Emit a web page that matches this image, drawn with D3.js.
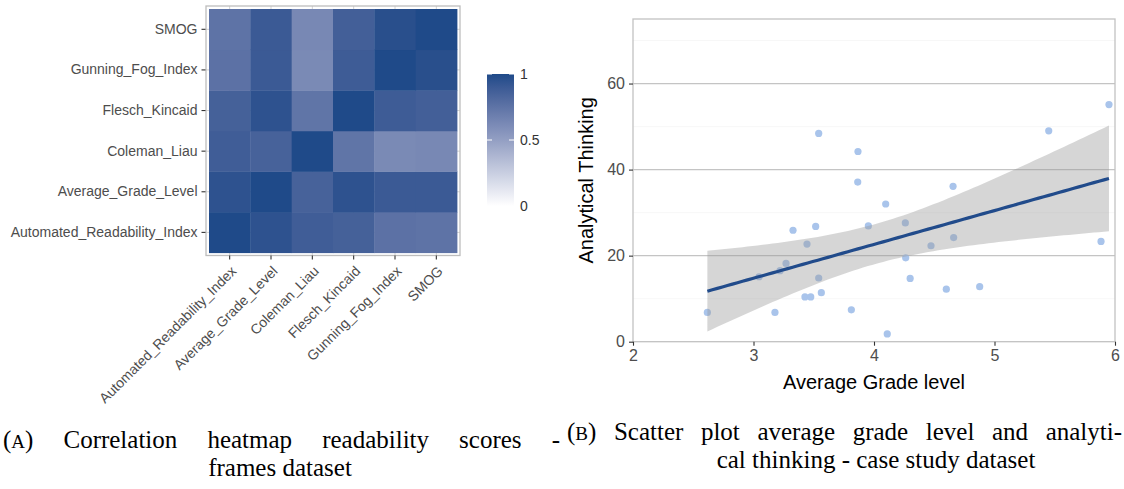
<!DOCTYPE html>
<html>
<head>
<meta charset="utf-8">
<script src="https://cdn.jsdelivr.net/npm/d3@7"></script>
<style>
  html, body { margin: 0; padding: 0; background: #fff; }
  svg { display: block; }
</style>
</head>
<body>
<div id="chart"></div>
<script>
(function() {
    'use strict';

    // heatmap data
    const measures = ["Automated_Readability_Index", "Average_Grade_Level", "Coleman_Liau",
                      "Flesch_Kincaid", "Gunning_Fog_Index", "SMOG"];
    const corrARI  = [1.00, 0.95, 0.88, 0.86, 0.76, 0.75];
    const corrAGL  = [0.95, 1.00, 0.85, 0.95, 0.90, 0.90];
    const corrCL   = [0.88, 0.85, 1.00, 0.74, 0.62, 0.63];
    const corrFK   = [0.86, 0.95, 0.74, 1.00, 0.89, 0.87];
    const corrGFI  = [0.76, 0.90, 0.62, 0.89, 1.00, 0.97];
    const corrSMOG = [0.75, 0.90, 0.63, 0.87, 0.97, 1.00];
    const corrRows = [corrARI, corrAGL, corrCL, corrFK, corrGFI, corrSMOG];
    const legendTicks = [0, 0.5, 1];

    // scatter data
    const gradeLevel = [2.617, 3.328, 3.516, 3.541, 3.444, 3.046, 3.22, 3.27, 3.541, 3.427,
                        3.475, 3.563, 3.178, 3.867, 3.865, 4.097, 3.953, 4.26, 4.656, 4.473,
                        4.661, 4.263, 4.30, 4.60, 4.877, 3.812, 4.11, 5.45, 5.95, 5.884];
    const analytical = [6.8, 25.9, 26.8, 48.4, 22.7, 15.1, 16.5, 18.2, 14.8, 10.4,
                        10.4, 11.4, 6.8, 44.2, 37.1, 32.0, 26.9, 27.6, 36.1, 22.3,
                        24.2, 19.5, 14.7, 12.2, 12.8, 7.4, 1.8, 49.0, 55.1, 23.3];
    const xTicks = [2, 3, 4, 5, 6];
    const yTicks = [0, 20, 40, 60];

    const width = 1124;
    const height = 489;
    const sans = "'Liberation Sans', Arial, sans-serif";

    const svg = d3.select("#chart")
        .append("svg")
        .attr("width", width)
        .attr("height", height)
        .style("font-family", sans);

    // ---------- HEATMAP ----------
    const hx = d3.scaleBand().domain(measures).range([209, 457]);
    const hy = d3.scaleBand().domain(measures).range([252.7, 9]);
    const color = d3.scaleLinear()
        .domain([0, 1])
        .range(["#ffffff", "#1f4a89"])
        .interpolate(d3.interpolateLab);

    // gridlines behind tiles
    svg.append("g")
        .selectAll("line")
        .data(measures)
        .join("line")
        .attr("x1", d => hx(d) + hx.bandwidth() / 2)
        .attr("x2", d => hx(d) + hx.bandwidth() / 2)
        .attr("y1", 6).attr("y2", 255.5)
        .attr("stroke", "#d4d4d4").attr("stroke-width", 1);
    svg.append("g")
        .selectAll("line")
        .data(measures)
        .join("line")
        .attr("y1", d => hy(d) + hy.bandwidth() / 2)
        .attr("y2", d => hy(d) + hy.bandwidth() / 2)
        .attr("x1", 206).attr("x2", 460)
        .attr("stroke", "#d4d4d4").attr("stroke-width", 1);

    const cells = [];
    corrRows.forEach((row, i) => {
        row.forEach((v, j) => cells.push({ row: measures[i], col: measures[j], value: v }));
    });

    svg.append("g")
        .selectAll("rect")
        .data(cells)
        .join("rect")
        .attr("x", d => hx(d.col))
        .attr("y", d => hy(d.row))
        .attr("width", hx.bandwidth() + 0.4)
        .attr("height", hy.bandwidth() + 0.4)
        .attr("fill", d => color(d.value));

    svg.append("rect")
        .attr("x", 206).attr("y", 6)
        .attr("width", 254).attr("height", 249.5)
        .attr("fill", "none")
        .attr("stroke", "#bdbdbd")
        .attr("stroke-width", 1.3);

    // y axis
    svg.append("g")
        .attr("transform", "translate(205.5,0)")
        .call(d3.axisLeft(hy).tickSize(4).tickPadding(4))
        .call(g => g.select(".domain").remove())
        .call(g => g.selectAll("line").attr("stroke", "#333").attr("stroke-width", 1.1))
        .selectAll("text")
        .attr("fill", "#4d4d4d")
        .attr("font-size", "14px")
        .attr("font-family", sans);

    // x axis
    svg.append("g")
        .attr("transform", "translate(0,255.5)")
        .call(d3.axisBottom(hx).tickSize(4))
        .call(g => g.select(".domain").remove())
        .call(g => g.selectAll("line").attr("stroke", "#333").attr("stroke-width", 1.1))
        .selectAll("text")
        .attr("x", 0).attr("y", 0)
        .attr("dy", "0.35em")
        .attr("transform", "translate(4,13) rotate(-45)")
        .style("text-anchor", "end")
        .attr("fill", "#4d4d4d")
        .attr("font-size", "14px")
        .attr("font-family", sans);

    // legend
    const ly = d3.scaleLinear().domain([0, 1]).range([206, 74]);
    const grad = svg.append("defs").append("linearGradient")
        .attr("id", "legGrad")
        .attr("x1", 0).attr("y1", 1).attr("x2", 0).attr("y2", 0);
    d3.range(0, 1.0001, 0.1).forEach(t => {
        grad.append("stop").attr("offset", t).attr("stop-color", color(t));
    });
    svg.append("rect")
        .attr("x", 487).attr("y", ly(1))
        .attr("width", 27).attr("height", ly(0) - ly(1))
        .attr("fill", "url(#legGrad)");
    const lg = svg.append("g");
    lg.selectAll("line.l")
        .data(legendTicks)
        .join("line")
        .attr("x1", 487).attr("x2", 492)
        .attr("y1", d => ly(d)).attr("y2", d => ly(d))
        .attr("stroke", "#fff").attr("stroke-width", 1);
    lg.selectAll("line.r")
        .data(legendTicks)
        .join("line")
        .attr("x1", 509).attr("x2", 514)
        .attr("y1", d => ly(d)).attr("y2", d => ly(d))
        .attr("stroke", "#fff").attr("stroke-width", 1);
    lg.selectAll("text")
        .data(legendTicks)
        .join("text")
        .attr("x", 520)
        .attr("y", d => ly(d))
        .attr("dy", "0.35em")
        .attr("font-size", "14px")
        .attr("fill", "#333")
        .text(d => d);

    // ---------- SCATTER ----------
    const x = d3.scaleLinear().domain([2, 6]).range([633, 1115]);
    const y = d3.scaleLinear().domain([0, 75]).range([341.7, 19]);

    // minor gridlines
    svg.append("g")
        .selectAll("line")
        .data([10, 30, 50, 70])
        .join("line")
        .attr("x1", x(2)).attr("x2", x(6))
        .attr("y1", d => y(d)).attr("y2", d => y(d))
        .attr("stroke", "#f2f2f2").attr("stroke-width", 0.6);
    // major gridlines
    svg.append("g")
        .selectAll("line")
        .data(yTicks.filter(d => d > 0))
        .join("line")
        .attr("x1", x(2)).attr("x2", x(6))
        .attr("y1", d => y(d)).attr("y2", d => y(d))
        .attr("stroke", "#c4c4c4").attr("stroke-width", 1.3);

    // points
    svg.append("g")
        .selectAll("circle")
        .data(gradeLevel)
        .join("circle")
        .attr("cx", d => x(d))
        .attr("cy", (d, i) => y(analytical[i]))
        .attr("r", 3.6)
        .attr("fill", "#a9c4eb");

    // linear fit with 95% band
    const n = gradeLevel.length;
    const mx = d3.mean(gradeLevel);
    const my = d3.mean(analytical);
    const sxx = d3.sum(gradeLevel, g => (g - mx) * (g - mx));
    const sxy = d3.sum(gradeLevel, (g, i) => (g - mx) * (analytical[i] - my));
    const slope = sxy / sxx;
    const icpt = my - slope * mx;
    const rss = d3.sum(gradeLevel, (g, i) => Math.pow(analytical[i] - icpt - slope * g, 2));
    const s = Math.sqrt(rss / (n - 2));
    const tq = 2.048;
    const gMin = d3.min(gradeLevel), gMax = d3.max(gradeLevel);
    const fit = d3.range(0, 81).map(k => {
        const g = gMin + (gMax - gMin) * k / 80;
        const yhat = icpt + slope * g;
        const se = s * Math.sqrt(1 / n + (g - mx) * (g - mx) / sxx);
        return { g: g, yhat: yhat, lo: yhat - tq * se, hi: yhat + tq * se };
    });

    svg.append("path")
        .datum(fit)
        .attr("d", d3.area().x(d => x(d.g)).y0(d => y(d.lo)).y1(d => y(d.hi)))
        .attr("fill", "#999999")
        .attr("fill-opacity", 0.4);

    svg.append("path")
        .datum(fit)
        .attr("d", d3.line().x(d => x(d.g)).y(d => y(d.yhat)))
        .attr("fill", "none")
        .attr("stroke", "#214b8b")
        .attr("stroke-width", 3.2);

    // panel border
    svg.append("rect")
        .attr("x", x(2)).attr("y", y(75))
        .attr("width", x(6) - x(2)).attr("height", y(0) - y(75))
        .attr("fill", "none")
        .attr("stroke", "#c2c2c2")
        .attr("stroke-width", 1.3);

    // axes
    svg.append("g")
        .attr("transform", `translate(0,${y(0)})`)
        .call(d3.axisBottom(x).tickValues(xTicks).tickSize(4).tickPadding(4).tickFormat(d3.format("d")))
        .call(g => g.select(".domain").remove())
        .call(g => g.selectAll("line").attr("stroke", "#333").attr("stroke-width", 1.1))
        .selectAll("text")
        .attr("fill", "#4d4d4d")
        .attr("font-size", "16px")
        .attr("font-family", sans);

    svg.append("g")
        .attr("transform", `translate(${x(2)},0)`)
        .call(d3.axisLeft(y).tickValues(yTicks).tickSize(4).tickPadding(4))
        .call(g => g.select(".domain").remove())
        .call(g => g.selectAll("line").attr("stroke", "#333").attr("stroke-width", 1.1))
        .selectAll("text")
        .attr("fill", "#4d4d4d")
        .attr("font-size", "16px")
        .attr("font-family", sans);

    svg.append("text")
        .attr("x", (x(2) + x(6)) / 2)
        .attr("y", 389)
        .attr("text-anchor", "middle")
        .attr("font-size", "20px")
        .attr("fill", "#000")
        .text("Average Grade level");

    svg.append("text")
        .attr("transform", `translate(593,${(y(0) + y(75)) / 2}) rotate(-90)`)
        .attr("text-anchor", "middle")
        .attr("font-size", "20px")
        .attr("fill", "#000")
        .text("Analytical Thinking");

    // ---------- CAPTIONS ----------
    const cap = svg.append("g")
        .attr("font-family", "'Liberation Serif', 'Times New Roman', serif")
        .attr("font-size", "25px")
        .attr("fill", "#000");

    // lay words out one by one so the line fills [x0, x1]
    function justifiedLine(words, x0, x1, yBase) {
        const nodes = words.map(w => {
            const t = cap.append("text").attr("y", yBase);
            if (w.sc) {
                t.append("tspan").text(w.text[0]);
                t.append("tspan").attr("font-size", "19px").text(w.text[1]);
                t.append("tspan").text(w.text.slice(2));
            } else {
                t.text(w.text);
            }
            return t;
        });
        const widths = nodes.map(t => t.node().getComputedTextLength());
        const gap = (x1 - x0 - d3.sum(widths)) / (nodes.length - 1);
        let cx = x0;
        nodes.forEach((t, i) => {
            t.attr("x", cx);
            cx += widths[i] + gap;
        });
    }

    justifiedLine(
        [{ text: "(A)", sc: true }].concat(
            "Correlation heatmap readability scores -".split(" ").map(w => ({ text: w }))),
        3, 560, 448);

    cap.append("text")
        .attr("x", 280).attr("y", 476)
        .attr("text-anchor", "middle")
        .text("frames dataset");

    justifiedLine(
        [{ text: "(B)", sc: true }].concat(
            "Scatter plot average grade level and analyti-".split(" ").map(w => ({ text: w }))),
        567, 1122, 440);

    cap.append("text")
        .attr("x", 876).attr("y", 468)
        .attr("text-anchor", "middle")
        .text("cal thinking - case study dataset");

})();
</script>
</body>
</html>
